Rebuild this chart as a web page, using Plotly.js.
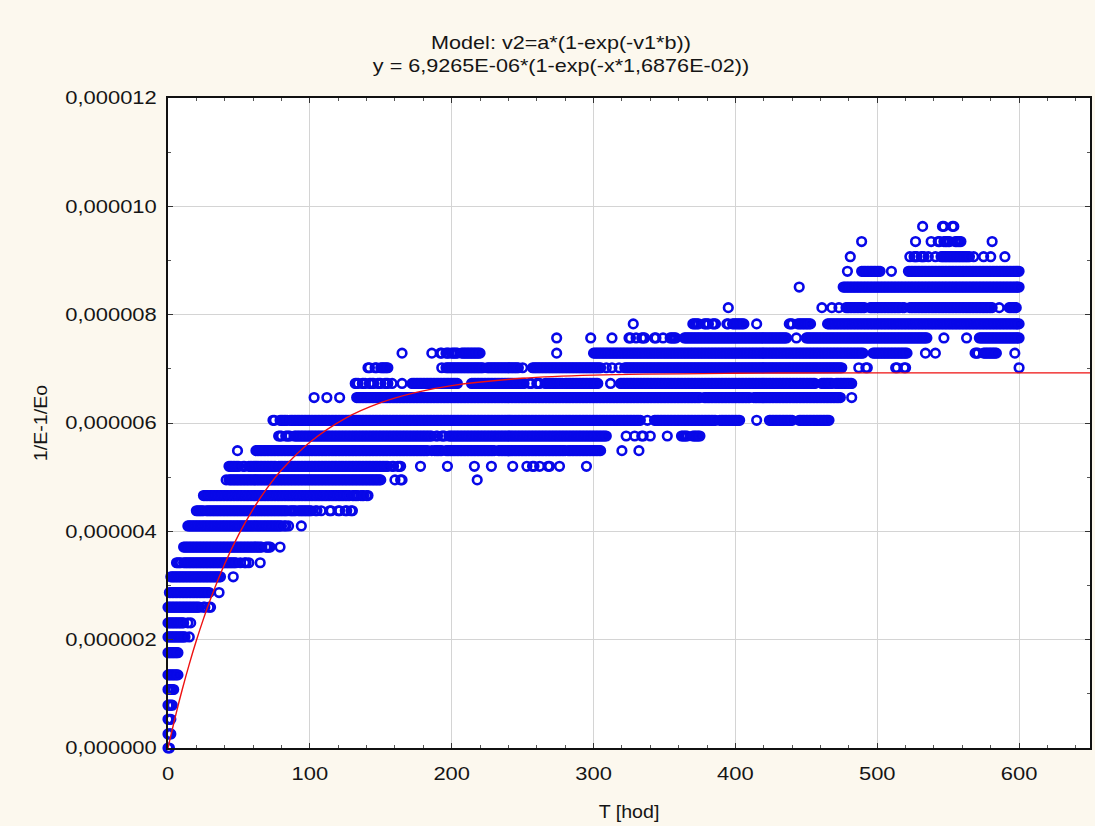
<!DOCTYPE html>
<html>
<head>
<meta charset="utf-8">
<script src="https://cdn.plot.ly/plotly-3.0.1.min.js"></script>
<style>
  html, body { margin: 0; padding: 0; background: #FCF8EE; }
  #chart { width: 1095px; height: 826px; }
</style>
</head>
<body>
<div id="chart"></div>
<script>
// ---- Data ----
// Observed levels of 1/E-1/Eo (the measurements are quantised)
const levels = [
  0.00e-6, 0.26e-6, 0.53e-6, 0.79e-6, 1.08e-6, 1.35e-6, 1.76e-6, 2.05e-6,
  2.31e-6, 2.60e-6, 2.87e-6, 3.16e-6, 3.42e-6, 3.71e-6, 4.10e-6, 4.38e-6,
  4.66e-6, 4.95e-6, 5.20e-6, 5.49e-6, 5.76e-6, 6.05e-6, 6.47e-6, 6.73e-6,
  7.02e-6, 7.29e-6, 7.57e-6, 7.83e-6, 8.13e-6, 8.51e-6, 8.80e-6, 9.07e-6,
  9.35e-6, 9.63e-6
];
// For each level: runs of hourly readings T [hod] (first hour, last hour)
const runs = [
  [[0,1]],
  [[0,2]],
  [[0,2]],
  [[0,3]],
  [[0,4]],
  [[0,7]],
  [[0,7]],
  [[0,12],[15,15]],
  [[0,11],[14,14],[16,16]],
  [[0,22],[25,26],[29,30]],
  [[1,29],[36,36]],
  [[2,37],[46,46]],
  [[6,9],[11,48],[51,51],[54,55],[57,57],[65,65]],
  [[11,66],[69,72],[79,79]],
  [[14,80],[82,83],[85,85],[94,94]],
  [[20,25],[27,84],[86,90],[92,101],[104,105],[108,108],[114,115],[120,121],[125,126],[129,130]],
  [[25,128],[130,134],[136,138],[140,141]],
  [[41,41],[43,150],[160,160],[164,165],[218,218]],
  [[43,50],[53,54],[57,76],[78,155],[158,159],[162,164],[178,178],[197,197],[216,216],[228,228],[243,243],[253,253],[257,258],[262,262],[268,269],[276,276],[295,295]],
  [[49,49],[62,183],[186,186],[188,193],[196,230],[233,280],[282,305],[320,320],[332,332]],
  [[78,80],[83,86],[89,186],[189,190],[193,195],[198,309],[323,323],[329,329],[334,335],[340,340],[352,352],[362,366],[370,375]],
  [[74,75],[79,84],[86,333],[338,338],[343,386],[389,403],[415,415],[424,440],[445,466]],
  [[103,103],[112,112],[121,121],[133,375],[378,410],[413,474],[482,482]],
  [[132,134],[137,139],[142,145],[148,150],[153,155],[158,158],[165,165],[172,204],[214,251],[255,256],[260,262],[266,278],[280,303],[312,312],[319,456],[461,468],[471,482]],
  [[141,142],[146,147],[150,155],[193,193],[196,222],[225,247],[250,250],[257,305],[309,309],[313,313],[318,318],[322,475],[487,487],[492,493],[513,514],[519,520],[600,600]],
  [[165,165],[186,186],[192,193],[196,198],[200,204],[207,220],[274,274],[300,490],[497,521],[534,534],[541,541],[569,571],[575,584],[597,597]],
  [[274,274],[298,298],[313,313],[325,326],[330,330],[334,336],[343,344],[349,349],[354,358],[364,436],[443,443],[450,535],[547,547],[563,563],[572,600]],
  [[328,328],[370,374],[378,381],[384,386],[394,395],[398,406],[415,415],[438,440],[444,453],[465,600]],
  [[395,395],[461,461],[468,468],[473,473],[478,491],[495,516],[518,519],[523,581],[586,586],[593,598]],
  [[445,445],[476,600]],
  [[479,479],[489,502],[510,510],[522,600]],
  [[481,481],[523,523],[526,528],[531,533],[536,536],[541,541],[545,565],[568,568],[575,575],[580,580],[590,590]],
  [[489,489],[527,527],[538,538],[543,544],[547,551],[555,559],[581,581]],
  [[532,532],[546,547],[553,554]]
];
// Fitted model curve
const curveT = [0, 1, 2, 3, 5, 7.5, 10, 15, 20, 25, 30, 40, 50, 60, 70, 80, 100, 125, 150, 175, 200, 250, 300, 400, 500, 650];
const curveY = [0, 0.116e-6, 0.230e-6, 0.342e-6, 0.560e-6, 0.824e-6, 1.076e-6, 1.549e-6, 1.984e-6, 2.384e-6,
                2.751e-6, 3.400e-6, 3.948e-6, 4.410e-6, 4.801e-6, 5.131e-6, 5.645e-6, 6.086e-6, 6.375e-6, 6.565e-6,
                6.690e-6, 6.825e-6, 6.883e-6, 6.918e-6, 6.925e-6, 6.926e-6];
// Axis tick labels
const xTicks = [0, 100, 200, 300, 400, 500, 600];
const yTicks = [0, 2e-6, 4e-6, 6e-6, 8e-6, 10e-6, 12e-6];
const yTickText = ['0,000000', '0,000002', '0,000004', '0,000006', '0,000008', '0,000010', '0,000012'];

// expand runs into individual readings
const ptsX = [], ptsY = [];
levels.forEach((lv, i) => {
  runs[i].forEach(([a, b]) => {
    for (let t = a; t <= b; t++) { ptsX.push(t); ptsY.push(lv); }
  });
});

const FONT = 'Liberation Sans, Arial, sans-serif';
const TXT = '#151515';
const traces = [
  {
    type: 'scatter', mode: 'markers', x: ptsX, y: ptsY, cliponaxis: false,
    marker: { symbol: 'circle-open', size: 8.6, color: '#0808e8', line: { width: 2.6, color: '#0808e8' } },
    hoverinfo: 'skip', showlegend: false
  },
  {
    type: 'scatter', mode: 'lines', x: curveT, y: curveY, cliponaxis: false,
    line: { color: '#ee1111', width: 1.4, shape: 'spline' },
    hoverinfo: 'skip', showlegend: false
  }
];

const axisCommon = {
  showline: true, linecolor: '#111', linewidth: 1.6, mirror: 'ticks',
  ticks: 'inside', ticklen: 5, tickwidth: 1, tickcolor: '#333',
  showgrid: true, gridcolor: '#d4d4d4', gridwidth: 1, zeroline: false,
  tickfont: { family: FONT, size: 18, color: TXT }
};

const layout = {
  width: 1095, height: 826,
  paper_bgcolor: '#FCF8EE', plot_bgcolor: '#ffffff',
  margin: { l: 168, r: 5, t: 98, b: 78 },
  showlegend: false,
  title: {
    text: 'Model: v2=a*(1-exp(-v1*b))<br>y = 6,9265E-06*(1-exp(-x*1,6876E-02))',
    font: { family: FONT, size: 18, color: TXT },
    xref: 'container', x: 561 / 1095, xanchor: 'center',
    yref: 'container', y: 1 - 30 / 826, yanchor: 'top'
  },
  xaxis: Object.assign({}, axisCommon, {
    range: [0, 650], tickvals: xTicks, ticktext: xTicks.map(String),
    minor: { dtick: 20, tick0: 0, ticks: 'inside', ticklen: 3, tickcolor: '#555', showgrid: false },
    ticklabelstandoff: 9,
    title: { text: 'T [hod]', font: { family: FONT, size: 18, color: TXT }, standoff: 22 }
  }),
  yaxis: Object.assign({}, axisCommon, {
    range: [0, 12e-6], tickvals: yTicks, ticktext: yTickText,
    minor: { dtick: 1e-6, tick0: 0, ticks: 'inside', ticklen: 3, tickcolor: '#555', showgrid: false },
    ticklabelstandoff: 6,
    title: { text: '1/E-1/Eo', font: { family: FONT, size: 18, color: TXT }, standoff: 29 }
  })
};

function stretch(sel, k) {
  document.querySelectorAll(sel).forEach(t => {
    const x = parseFloat(t.getAttribute('x')) || 0;
    const tr = t.getAttribute('transform') || '';
    t.setAttribute('transform', tr + ' translate(' + x + ',0) scale(' + k + ',1) translate(' + (-x) + ',0)');
  });
}

Plotly.newPlot('chart', traces, layout, { staticPlot: true, displayModeBar: false }).then(() => {
  stretch('.xtick text', 1.22);
  stretch('.ytick text', 1.22);
  stretch('.gtitle', 1.2);
  stretch('.xtitle', 1.09);
  stretch('.ytitle', 1.09);
  // move the two-line title down to its place
  const g = document.querySelector('.gtitle');
  if (g) {
    const tr = g.getAttribute('transform') || '';
    g.setAttribute('transform', 'translate(0,19) ' + tr);
  }
});
</script>
</body>
</html>
